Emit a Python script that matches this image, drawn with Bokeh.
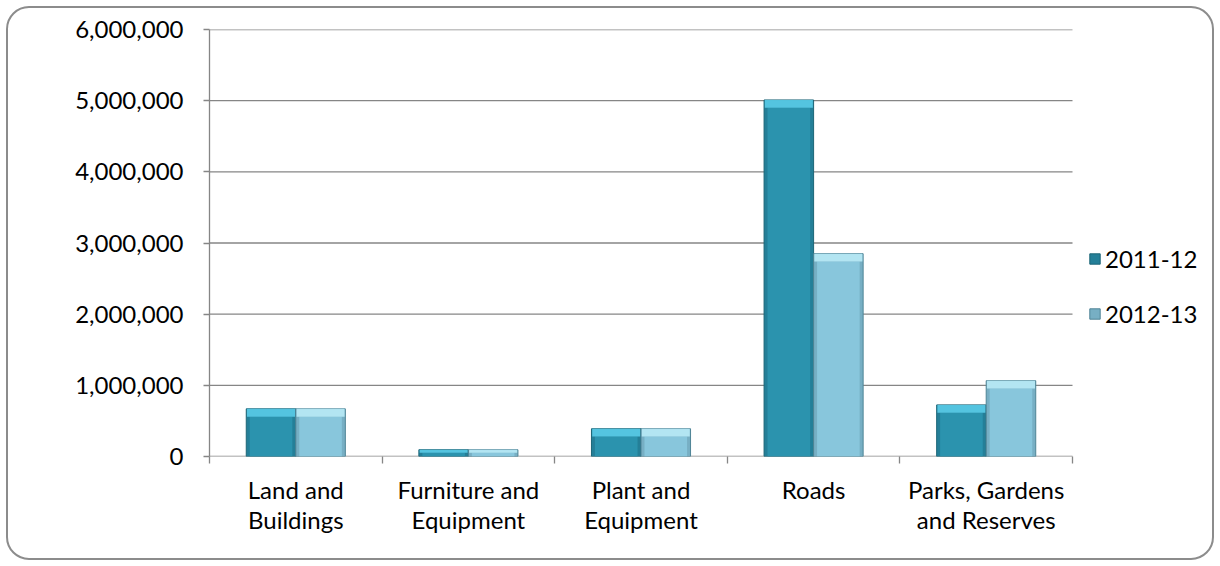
from bokeh.plotting import figure
from bokeh.models import (ColumnDataSource, FixedTicker, NumeralTickFormatter, Range1d,
                          Legend, LegendItem, InlineStyleSheet)
from bokeh.embed import file_html
from bokeh.resources import INLINE

categories = ["Land and\nBuildings", "Furniture and\nEquipment", "Plant and\nEquipment",
              "Roads", "Parks, Gardens\nand Reserves"]
series_names = ["2011-12", "2012-13"]
values_2011 = [670000, 95000, 390000, 5010000, 725000]
values_2012 = [670000, 95000, 390000, 2850000, 1065000]
y_ticks = [0, 1000000, 2000000, 3000000, 4000000, 5000000, 6000000]

FONT = "Lato"
FS = "24px"
M = 7                      # outer margin of the rounded frame
W, H = 1220 - 2 * M, 566 - 2 * M
LEFT, RIGHT, TOP, BOTTOM = 209 - M, 6, 29 - M, 110 - M
PLOT_W = 863               # width of the category area in px
frame_w = W - LEFT - RIGHT
n = len(categories)

p = figure(width=W, height=H, output_backend="svg", toolbar_location=None,
           x_range=Range1d(0, n * frame_w / PLOT_W), y_range=Range1d(0, 6000000),
           min_border_left=LEFT, min_border_right=RIGHT,
           min_border_top=TOP, min_border_bottom=BOTTOM)
p.margin = (M, M, M, M)
p.stylesheets = [InlineStyleSheet(css=":host { outline: 2px solid #8c8c8c; outline-offset: -1px; border-radius: 22px; }")]
p.outline_line_color = None
p.background_fill_color = "white"
p.border_fill_color = None

# horizontal gridlines spanning only the category area
p.segment(x0=[0] * len(y_ticks), x1=[n] * len(y_ticks), y0=y_ticks, y1=y_ticks,
          line_color="#868686", line_width=1.3)
p.xgrid.visible = False
p.ygrid.visible = False

bar_w = 0.287
centers = [i + 0.5 for i in range(n)]
specs = [
    (values_2011, -bar_w / 2, "#2B93AE", "#5DD0EC", "#1C6577", "#247F98", series_names[0]),
    (values_2012, bar_w / 2, "#88C6DC", "#BDEFFA", "#4F8496", "#77AFC4", series_names[1]),
]
items = []
for vals, off, body, top_c, edge, side, name in specs:
    xs = [c + off for c in centers]
    src = ColumnDataSource(dict(x=xs, top=vals,
                                band=[max(v - 110000, v * 0.55) for v in vals]))
    r = p.vbar(x="x", top="top", bottom=0, width=bar_w, source=src,
               fill_color=side, line_color=edge, line_width=1)
    p.vbar(x="x", top="band", bottom=0, width=bar_w * 0.86, source=src,
           fill_color=body, line_color=None)
    p.vbar(x="x", top="top", bottom="band", width=bar_w * 0.97, source=src,
           fill_color=top_c, line_color=None, fill_alpha=0.85)
    items.append(LegendItem(label=name, renderers=[r]))

p.yaxis.ticker = FixedTicker(ticks=y_ticks)
p.yaxis.formatter = NumeralTickFormatter(format="0,0")
p.yaxis.axis_line_color = "#868686"
p.yaxis.axis_line_width = 1.3
p.yaxis.major_tick_line_color = "#868686"
p.yaxis.major_tick_line_width = 1.3
p.yaxis.major_tick_out = 6
p.yaxis.major_tick_in = 0
p.yaxis.minor_tick_line_color = None
p.yaxis.major_label_standoff = 20
p.yaxis.major_label_text_font = FONT
p.yaxis.major_label_text_font_size = FS
p.yaxis.major_label_text_color = "#000000"

p.xaxis.ticker = FixedTicker(ticks=centers, minor_ticks=list(range(n + 1)))
p.xaxis.major_label_overrides = {c: lab for c, lab in zip(centers, categories)}
p.xaxis.axis_line_color = None
p.xaxis.major_tick_line_color = None
p.xaxis.major_tick_out = 0
p.xaxis.major_tick_in = 0
p.xaxis.minor_tick_line_color = "#868686"
p.xaxis.minor_tick_line_width = 1.3
p.xaxis.minor_tick_out = 7
p.xaxis.minor_tick_in = 0
p.xaxis.major_label_standoff = 11
p.xaxis.major_label_text_font = FONT
p.xaxis.major_label_text_font_size = FS
p.xaxis.major_label_text_color = "#000000"
p.xaxis.major_label_text_line_height = 1.05

legend = Legend(items=items, location=(879, 128), orientation="vertical",
                label_text_font=FONT, label_text_font_size=FS,
                label_text_color="#000000", glyph_width=13, glyph_height=13,
                spacing=26, padding=0, margin=0, border_line_color=None,
                background_fill_alpha=0, label_standoff=4)
p.add_layout(legend, "center")

open("out.html", "w").write(file_html(p, INLINE))
